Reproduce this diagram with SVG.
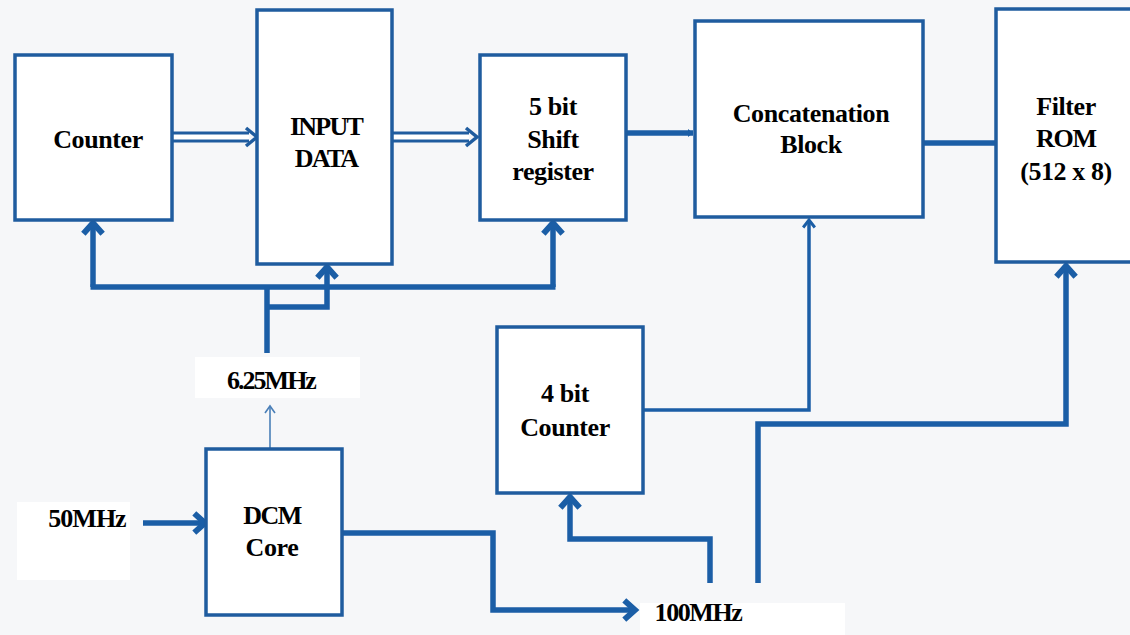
<svg xmlns="http://www.w3.org/2000/svg" width="1130" height="635" viewBox="0 0 1130 635">
<defs>
<style>
.box{fill:#ffffff;stroke:#1f5c9f;stroke-width:3.5}
.t{font-family:"Liberation Serif","Times New Roman",serif;font-weight:bold;font-size:26px;fill:#000;text-anchor:middle;letter-spacing:-0.4px}
.w{fill:#ffffff}
.thick{fill:none;stroke:#1b5ea6;stroke-width:5.5;stroke-linejoin:miter}
.mid{fill:none;stroke:#1b5ea6;stroke-width:3.5}
.thin{fill:none;stroke:#4a7fb8;stroke-width:1.6}
.dbl{fill:none;stroke:#1f5c9f;stroke-width:11}
.dbli{fill:none;stroke:#ffffff;stroke-width:5}
</style>
<marker id="ah" markerUnits="userSpaceOnUse" markerWidth="30" markerHeight="30" refX="0" refY="0" viewBox="-14 -14 28 28" orient="auto" overflow="visible">
<path d="M-10,-9 L0,0 L-10,9" fill="none" stroke="#1b5ea6" stroke-width="5.5" stroke-linejoin="miter"/>
</marker>
<marker id="ahm" markerUnits="userSpaceOnUse" markerWidth="20" markerHeight="20" refX="0" refY="0" viewBox="-12 -12 24 24" orient="auto" overflow="visible">
<path d="M-9,-7 L0,0 L-9,7" fill="none" stroke="#1b5ea6" stroke-width="3.5"/>
</marker>
<marker id="aht" markerUnits="userSpaceOnUse" markerWidth="20" markerHeight="20" refX="0" refY="0" viewBox="-10 -10 20 20" orient="auto" overflow="visible">
<path d="M-7,-5 L0,0 L-7,5" fill="none" stroke="#4a7fb8" stroke-width="1.6"/>
</marker>
<marker id="dot" markerUnits="userSpaceOnUse" markerWidth="12" markerHeight="12" refX="0" refY="0" viewBox="-6 -6 12 12" orient="auto" overflow="visible">
<path d="M-5,-4 L0,0 L-5,4 Z" fill="#1b5ea6"/>
</marker>
</defs>
<rect x="0" y="0" width="1130" height="635" fill="#f6f7f9"/>
<rect class="w" x="195" y="357" width="165" height="41"/>
<rect class="w" x="17" y="502" width="113" height="78"/>
<rect class="w" x="640" y="603" width="205" height="32"/>

<g id="connectors">
<path class="dbl" d="M172,137 H249"/>
<path class="dbli" d="M172,137 H249"/>
<path d="M246,128 L257,137 L246,146" fill="none" stroke="#1f5c9f" stroke-width="3.5"/>
<path class="dbl" d="M392,137 H469"/>
<path class="dbli" d="M392,137 H469"/>
<path d="M466,128 L477,137 L466,146" fill="none" stroke="#1f5c9f" stroke-width="3.5"/>
<path class="thick" d="M621,133 H693" marker-end="url(#dot)"/>
<path class="thick" d="M923,143 H996"/>
<path class="thick" d="M93,287 V223" marker-end="url(#ah)"/>
<path class="thick" d="M90.5,287 H555.5"/>
<path class="thick" d="M553,287 V223" marker-end="url(#ah)"/>
<path class="thick" d="M267,287 V353"/>
<path class="thick" d="M267,307 H327 V267" marker-end="url(#ah)"/>
<path class="thin" d="M270,449 V406" marker-end="url(#aht)"/>
<path class="thick" d="M143,523 H205" marker-end="url(#ah)"/>
<path class="thick" d="M342,533 H493 V610 H635" marker-end="url(#ah)"/>
<path class="thick" d="M710,583 V539 H570 V497" marker-end="url(#ah)"/>
<path class="thick" d="M758,583 V424 H1066 V266" marker-end="url(#ah)"/>
<path class="mid" d="M643,410 H809 V220" marker-end="url(#ahm)"/>
</g>

<g id="counter">
<rect class="box" x="15" y="55" width="157" height="165"/>
<text class="t" x="98" y="148">Counter</text>
</g>
<g id="input-data">
<rect class="box" x="257" y="10" width="135" height="254"/>
<text class="t" x="326" y="135" style="letter-spacing:-1.8px">INPUT</text>
<text class="t" x="326" y="167" style="letter-spacing:-1.8px">DATA</text>
</g>
<g id="shift-register">
<rect class="box" x="480" y="55" width="146" height="165"/>
<text class="t" x="553" y="115">5 bit</text>
<text class="t" x="553" y="148">Shift</text>
<text class="t" x="553" y="180">register</text>
</g>
<g id="concatenation">
<rect class="box" x="695" y="21" width="228" height="196"/>
<text class="t" x="811" y="122">Concatenation</text>
<text class="t" x="811" y="153">Block</text>
</g>
<g id="filter-rom">
<rect class="box" x="996" y="9" width="136" height="253"/>
<text class="t" x="1066" y="115">Filter</text>
<text class="t" x="1066" y="147" style="letter-spacing:-1.2px">ROM</text>
<text class="t" x="1066" y="180">(512 x 8)</text>
</g>
<g id="dcm-core">
<rect class="box" x="206" y="449" width="136" height="166"/>
<text class="t" x="272" y="524" style="letter-spacing:-1.5px">DCM</text>
<text class="t" x="272" y="556">Core</text>
</g>
<g id="four-bit-counter">
<rect class="box" x="497" y="327" width="146" height="166"/>
<text class="t" x="565" y="402">4 bit</text>
<text class="t" x="565" y="436">Counter</text>
</g>
<g id="labels">
<text class="t" x="271" y="389" style="letter-spacing:-2px">6.25MHz</text>
<text class="t" x="87" y="527" style="letter-spacing:-1px">50MHz</text>
<text class="t" x="698" y="621" style="letter-spacing:-1.4px">100MHz</text>
</g>
</svg>
